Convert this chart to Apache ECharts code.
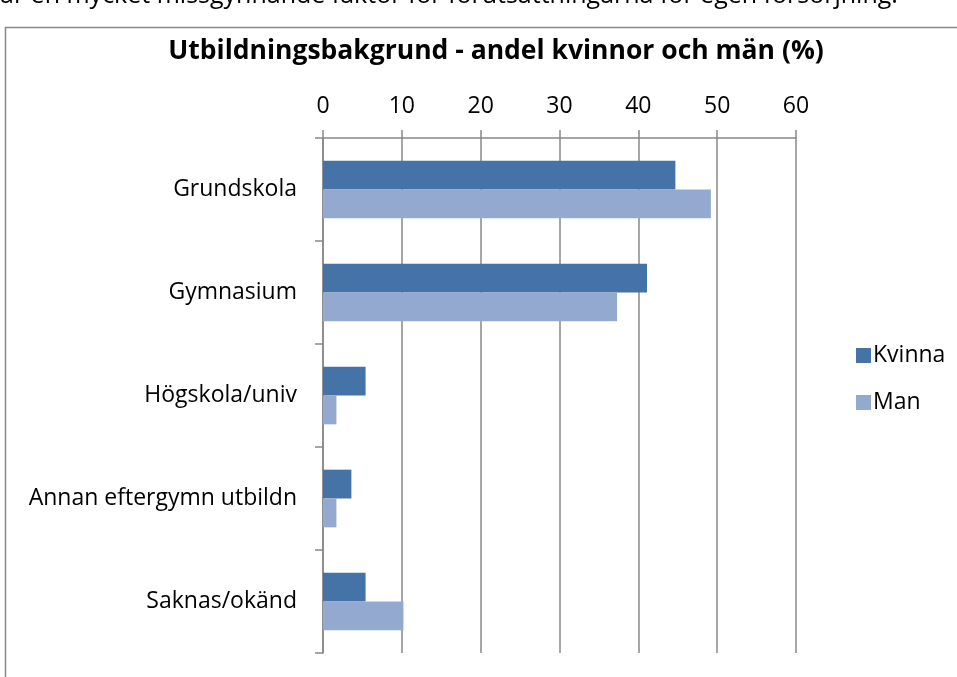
<!DOCTYPE html>
<html><head><meta charset="utf-8">
<script src="https://cdn.jsdelivr.net/npm/echarts@6/dist/echarts.min.js"></script>
<style>html,body{margin:0;padding:0;background:#fff}#c{width:957px;height:677px}</style>
</head><body><div id="c"></div>
<script>
const categories = ['Grundskola', 'Gymnasium', 'Högskola/univ', 'Annan eftergymn utbildn', 'Saknas/okänd'];
const kvinna = [44.7, 41.1, 5.4, 3.6, 5.4];
const man = [49.2, 37.3, 1.7, 1.7, 10.2];
const xTicks = [0, 10, 20, 30, 40, 50, 60];
const FONT = '"Open Sans", sans-serif';
const chart = echarts.init(document.getElementById('c'));
chart.setOption({
  animation: false,
  title: {
    text: 'Utbildningsbakgrund - andel kvinnor och män (%)',
    left: 491, top: 33, textAlign: 'center',
    textStyle: { fontFamily: FONT, fontSize: 26.5, fontWeight: 'bold', color: '#000' }
  },
  graphic: [
    { type: 'text', left: 0, top: -17, style: { text: 'är en mycket missgynnande faktor för förutsättningarna för egen försörjning.', fontFamily: FONT, fontSize: 25, fill: '#000' } },
    { type: 'rect', shape: { x: 5.5, y: 27.5, width: 1000, height: 700 }, style: { fill: 'none', stroke: '#888', lineWidth: 1.5 }, z: -1 }
  ],
  legend: {
    orient: 'vertical', left: 851, top: 339, itemGap: 24,
    itemWidth: 15, itemHeight: 15, icon: 'rect',
    textStyle: { fontFamily: FONT, fontSize: 23, color: '#000', padding: [0, 0, 0, -3] },
    data: ['Kvinna', 'Man']
  },
  grid: { left: 323, right: 161, top: 138, bottom: 24, containLabel: false },
  xAxis: {
    type: 'value', position: 'top', min: 0, max: 60, interval: 10,
    axisLine: { show: true, lineStyle: { color: '#888', width: 1.5 } },
    axisTick: { show: true, length: 8, lineStyle: { color: '#888', width: 1.5 } },
    splitLine: { show: true, lineStyle: { color: '#888', width: 1.5 } },
    axisLabel: { fontFamily: FONT, fontSize: 23, color: '#000', margin: 20,
      formatter: v => xTicks.includes(v) ? String(v) : '' }
  },
  yAxis: {
    type: 'category', data: categories, inverse: true,
    axisLine: { show: true, lineStyle: { color: '#888', width: 1.5 } },
    axisTick: { show: true, length: 8, lineStyle: { color: '#888', width: 1.5 } },
    axisLabel: { fontFamily: FONT, fontSize: 23, color: '#000', margin: 26 }
  },
  series: [
    { name: 'Kvinna', type: 'bar', data: kvinna, barGap: '0%', barCategoryGap: '44%',
      itemStyle: { color: '#4572A7' } },
    { name: 'Man', type: 'bar', data: man, barGap: '0%', barCategoryGap: '44%',
      itemStyle: { color: '#93A9CF' } }
  ]
});
</script></body></html>
